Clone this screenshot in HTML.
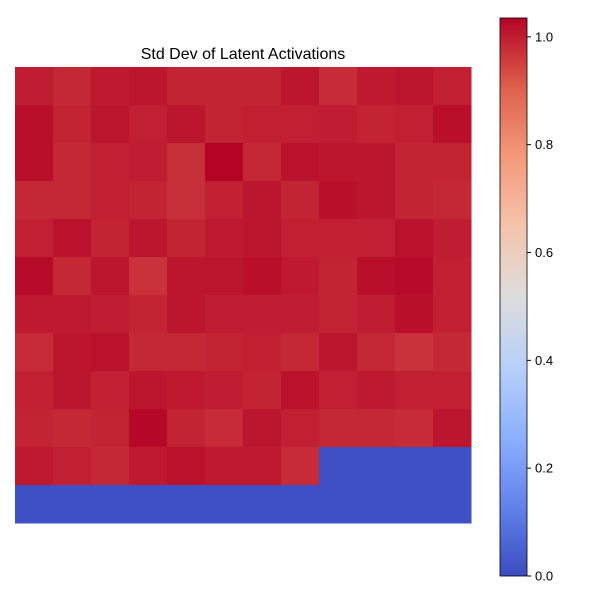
<!DOCTYPE html>
<html><head><meta charset="utf-8"><style>
body{margin:0;background:#fff;font-family:"Liberation Sans",sans-serif;}
svg text{font-family:"Liberation Sans",sans-serif;}
</style></head><body>
<svg id="chart" width="599" height="599">
<defs><linearGradient id="cbg" x1="0" y1="1" x2="0" y2="0"></linearGradient></defs>
<text x="243" y="59" text-anchor="middle" font-size="16">Std Dev of Latent Activations</text>
<g id="cells"></g>
<rect x="500" y="18" width="27" height="558" fill="url(#cbg)" stroke="#000" stroke-width="0.8"/>
<g id="cbticks"></g>
</svg>
<script>
const rowLabels=[0,1,2,3,4,5,6,7,8,9,10,11];
const colLabels=[0,1,2,3,4,5,6,7,8,9,10,11];
const values=[
[1.0,.985,1.005,1.01,.99,.99,.99,1.01,.98,1.005,1.01,.995],
[1.02,.99,1.01,.995,1.01,.99,.995,.995,1.0,.99,.995,1.02],
[1.02,.985,.995,1.0,.975,1.035,.985,1.015,1.01,1.01,.99,.99],
[.985,.985,.995,.99,.975,.995,1.01,.99,1.02,1.01,.99,.985],
[.995,1.015,.99,1.01,.99,1.005,1.01,.995,.995,.995,1.015,1.0],
[1.025,.985,1.01,.97,1.01,1.01,1.02,1.005,.99,1.02,1.025,.995],
[1.005,1.005,1.0,.99,1.01,1.0,1.0,1.0,.99,1.0,1.02,.995],
[.98,1.01,1.015,.985,.985,.99,.995,.985,1.01,.985,.97,.985],
[.995,1.01,.995,1.01,1.005,1.0,.99,1.015,.995,1.005,.995,.995],
[.99,.985,.99,1.03,.99,.98,1.01,.995,.985,.985,.98,1.01],
[1.005,.995,.985,1.005,1.015,1.005,1.005,.98,.01,.01,.01,.01],
[.01,.01,.01,.01,.01,.01,.01,.01,.01,.01,.01,.01]];
const cbTicks=[0,0.2,0.4,0.6,0.8,1.0];
const vmin=0,vmax=1.035;
const stops=[[59,76,192],[98,130,234],[141,176,254],[184,208,249],[221,221,221],[245,196,173],[244,154,123],[222,96,77],[180,4,38]];
function cmap(t){t=Math.max(0,Math.min(1,t))*8;const i=Math.min(7,Math.floor(t)),f=t-i;const a=stops[i],b=stops[i+1];return `rgb(${a.map((v,k)=>Math.round(v+(b[k]-v)*f)).join(',')})`;}
const x0=15,y0=67,W=456,H=456;
const cw=W/colLabels.length,ch=H/rowLabels.length;
const xs=c=>x0+c*cw, ys=r=>y0+r*ch;
const NS="http://www.w3.org/2000/svg";
const g=document.getElementById('cells');
values.forEach((row,r)=>row.forEach((v,c)=>{
 const el=document.createElementNS(NS,'rect');
 el.setAttribute('x',xs(c));el.setAttribute('y',ys(r));
 el.setAttribute('width',cw+0.5);el.setAttribute('height',ch+0.5);
 el.setAttribute('fill',cmap((v-vmin)/(vmax-vmin)));
 
 
 g.appendChild(el);
}));
const grad=document.getElementById('cbg');
for(let i=0;i<=8;i++){const s=document.createElementNS(NS,'stop');s.setAttribute('offset',i/8);s.setAttribute('stop-color',`rgb(${stops[i].join(',')})`);grad.appendChild(s);}
const cy=v=>576-(v-vmin)/(vmax-vmin)*558;
const tg=document.getElementById('cbticks');
cbTicks.forEach(t=>{
 const l=document.createElementNS(NS,'line');
 l.setAttribute('x1',527);l.setAttribute('x2',531);l.setAttribute('y1',cy(t));l.setAttribute('y2',cy(t));l.setAttribute('stroke','#000');
 
 
 tg.appendChild(l);
 const tx=document.createElementNS(NS,'text');
 tx.setAttribute('x',535);tx.setAttribute('y',cy(t)+4.5);tx.setAttribute('font-size','13');
 tx.textContent=t.toFixed(1);
 
 
 tg.appendChild(tx);
});
</script>
</body></html>
